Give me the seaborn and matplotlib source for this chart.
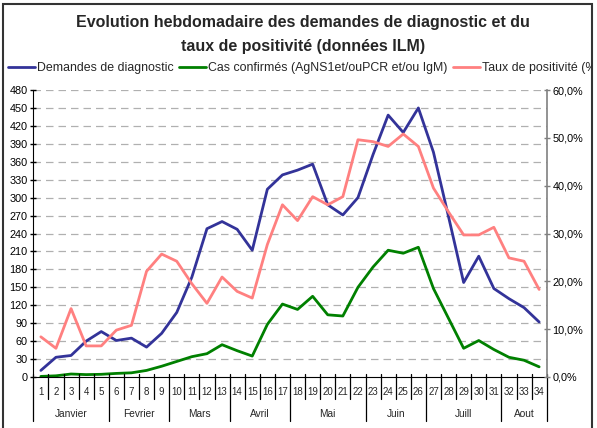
import matplotlib

matplotlib.use("Agg")
import matplotlib.pyplot as plt
import matplotlib.transforms as mtransforms
import pandas as pd
import seaborn as sns
from matplotlib.lines import Line2D
from matplotlib.patches import Rectangle
from matplotlib.ticker import FuncFormatter, MultipleLocator

WEEKS = list(range(1, 35))
DEMANDES = [11, 33, 36, 60, 76, 61, 65, 50, 73, 108, 167, 248, 260, 247, 212, 314, 338,
            346, 356, 288, 271, 300, 372, 438, 409, 450, 376, 268, 158, 202, 148, 131, 116, 92]
CONFIRMES = [1, 2, 5, 4, 4.5, 6, 7, 11, 18, 26, 34, 39, 54, 44, 35, 88, 122,
             113, 135, 104, 102, 150, 184, 212, 207, 217, 148, 98, 48, 61, 46, 33, 28, 17]
TAUX = [8.4, 6.0, 14.3, 6.5, 6.5, 9.8, 10.8, 22.1, 25.7, 24.2, 19.5, 15.4, 20.9, 17.9, 16.5, 27.7, 36.0,
        32.7, 37.7, 36.0, 37.7, 49.6, 49.2, 48.2, 50.8, 48.2, 39.5, 34.5, 29.7, 29.7, 31.3, 24.9, 24.2, 18.3]
MONTHS = ["Janvier", "Fevrier", "Mars", "Avril", "Mai", "Juin", "Juill", "Aout"]
MONTH_WEEKS = [5, 4, 4, 4, 5, 4, 5, 3]

LABELS = [
    "Demandes de diagnostic",
    "Cas confirmés (AgNS1et/ouPCR et/ou IgM)",
    "Taux de positivité (%)",
]
COLORS = ["#333399", "#008000", "#FF8080"]

sns.set_style("white")
plt.rcParams["font.family"] = ["Liberation Sans", "DejaVu Sans"]

df = pd.DataFrame({"semaine": WEEKS, "demandes": DEMANDES,
                   "confirmes": CONFIRMES, "taux": TAUX})

W, H = 597, 428
fig = plt.figure(figsize=(W / 100, H / 100), dpi=100)
ax = fig.add_axes([33.3 / W, 51 / H, 513.4 / W, 287 / H])
ax2 = ax.twinx()

sns.lineplot(data=df, x="semaine", y="demandes", ax=ax, color=COLORS[0], lw=2)
sns.lineplot(data=df, x="semaine", y="confirmes", ax=ax, color=COLORS[1], lw=2)
sns.lineplot(data=df, x="semaine", y="taux", ax=ax2, color=COLORS[2], lw=2)

ax.set_xlim(0.5, 34.5)
ax.set_ylim(0, 480)
ax2.set_ylim(0, 60)
ax.yaxis.set_major_locator(MultipleLocator(30))
ax2.yaxis.set_major_locator(MultipleLocator(10))
ax2.yaxis.set_major_formatter(FuncFormatter(lambda v, p: f"{v:.1f}%".replace(".", ",")))

for a in (ax, ax2):
    a.set_xlabel("")
    a.set_ylabel("")
    a.spines["top"].set_visible(False)
ax.spines["right"].set_visible(False)
ax2.spines["left"].set_visible(False)
ax2.spines["bottom"].set_visible(False)
ax.spines["left"].set_color("black")
ax.spines["bottom"].set_color("black")
ax2.spines["right"].set_color("#808080")
ax2.spines["right"].set_linewidth(1.2)

ax.tick_params(axis="y", direction="inout", length=5, width=1, pad=1.5,
               labelsize=7.8, left=True, colors="black")
ax2.tick_params(axis="y", direction="inout", length=5, width=1, pad=1.5,
                labelsize=7.8, right=True, colors="black")
ax2.tick_params(axis="y", color="#808080")
ax.set_xticks([])

# dashed gridlines at each left-axis tick
for v in range(30, 481, 30):
    ax.axhline(v, color="#b0b0b0", lw=0.9, ls=(0, (6, 4)), zorder=0)

# week / month category axis below the plot
trans = mtransforms.blended_transform_factory(ax.transData, ax.transAxes)
px = 1 / 287
edges = [0.5]
for n in MONTH_WEEKS:
    edges.append(edges[-1] + n)
for w in range(0, 35):
    x = w + 0.5
    bottom = -44 * px if x in edges else -22 * px
    ax.plot([x, x], [3 * px, bottom], color="black", lw=0.9,
            transform=trans, clip_on=False)
for w in WEEKS:
    ax.text(w, -15 * px, str(w), transform=trans, ha="center", va="center", fontsize=7)
for name, lo, hi in zip(MONTHS, edges[:-1], edges[1:]):
    ax.text((lo + hi) / 2, -37 * px, name, transform=trans,
            ha="center", va="center", fontsize=7.3)

# chart border
border = Rectangle((2.5 / W, -0.02), 589.5 / W, 1.0 - 3.5 / H + 0.02,
                   transform=fig.transFigure, fill=False,
                   edgecolor="#333333", lw=1.5)
fig.patches.append(border)

fig.text(303 / W, 1 - 22 / H, "Evolution hebdomadaire des demandes de diagnostic et du",
         ha="center", va="center", fontsize=11.5, fontweight="bold")
fig.text(303 / W, 1 - 46 / H, "taux de positivité (données ILM)",
         ha="center", va="center", fontsize=11.5, fontweight="bold")

handles = [Line2D([], [], color=c, lw=2) for c in COLORS]
leg = fig.legend(handles, LABELS, loc="center left", bbox_to_anchor=(8 / W, 1 - 68 / H),
                 ncol=3, frameon=False, fontsize=8.9, handlelength=2.2,
                 handletextpad=0.15, columnspacing=0.45, borderaxespad=0, borderpad=0)
for t in leg.get_texts():
    t.set_clip_path(border)

fig.savefig("out.png", dpi=100)
